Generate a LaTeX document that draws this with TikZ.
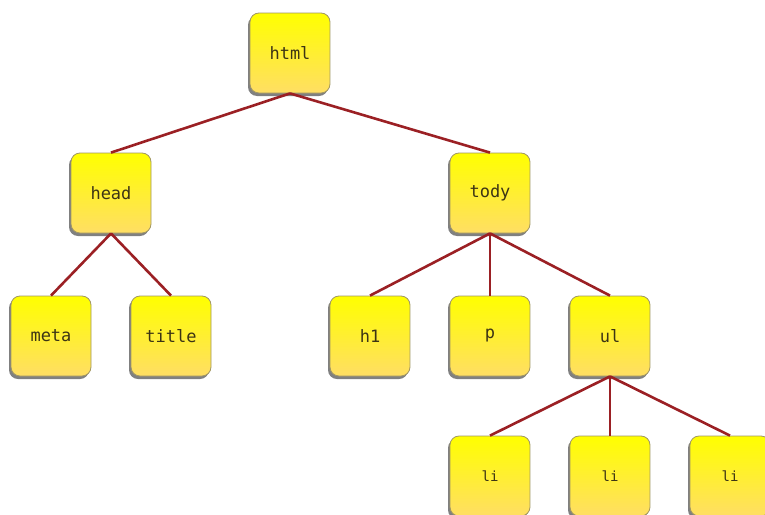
\documentclass[tikz,border=0pt]{standalone}
\usepackage{fontspec}
\newfontfamily\treefont{DejaVu Sans Mono}
\usetikzlibrary{shadows}

\definecolor{edgered}{RGB}{155,32,36}
\definecolor{boxline}{RGB}{160,150,100}
\definecolor{boxbottom}{RGB}{255,222,100}
\definecolor{tagtext}{RGB}{60,52,20}

\begin{document}
\begin{tikzpicture}[x=1pt, y=-1pt,
    tag/.style={rectangle, rounded corners=9pt, draw=boxline, line width=0.8pt,
        top color=yellow, bottom color=boxbottom, minimum width=80pt, minimum height=80pt,
        inner sep=0pt, text=tagtext, font=\treefont\fontsize{17}{20}\selectfont,
        drop shadow={shadow xshift=-2pt, shadow yshift=-3pt, fill=black!50, opacity=1}},
    smalltag/.style={tag, font=\treefont\fontsize{14}{17}\selectfont},
    link/.style={draw=edgered, line width=2.6pt}
]
\useasboundingbox (0,0) rectangle (765,514);

\node[tag] (html) at (290,53) {html};
\node[tag] (head) at (111,193) {head};
\node[tag] (body) at (490,193) {tody};
\node[tag] (meta) at (51,336) {meta};
\node[tag] (title) at (171,336) {title};
\node[tag] (h1) at (370,336) {h1};
\node[tag] (p) at (490,336) {p};
\node[tag] (ul) at (610,336) {ul};
\node[smalltag] (li1) at (490,476) {li};
\node[smalltag] (li2) at (610,476) {li};
\node[smalltag] (li3) at (730,476) {li};

% links
\draw[link] (html.south) -- (head.north);
\draw[link] (html.south) -- (body.north);
\draw[link] (head.south) -- (meta.north);
\draw[link] (head.south) -- (title.north);
\draw[link] (body.south) -- (h1.north);
\draw[link] (body.south) -- (p.north);
\draw[link] (body.south) -- (ul.north);
\draw[link] (ul.south) -- (li1.north);
\draw[link] (ul.south) -- (li2.north);
\draw[link] (ul.south) -- (li3.north);

\end{tikzpicture}
\end{document}
